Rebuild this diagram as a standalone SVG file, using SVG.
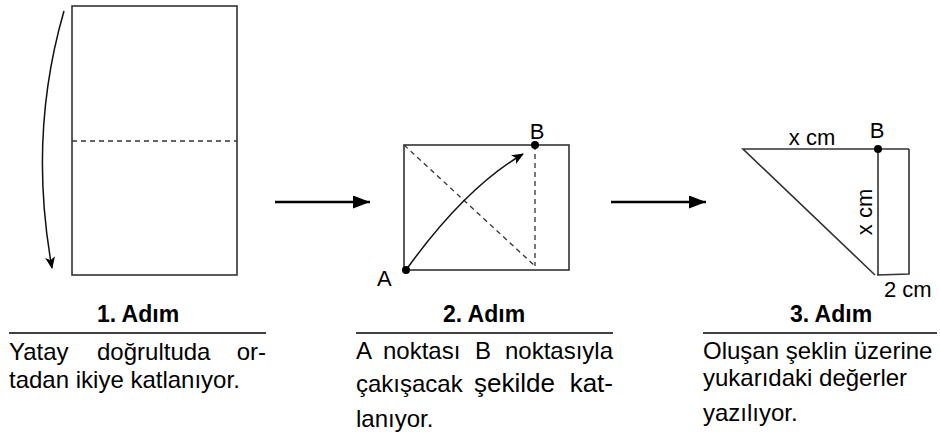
<svg xmlns="http://www.w3.org/2000/svg" width="940" height="435" viewBox="0 0 940 435">
<defs>
<style>
.shape{fill:none;stroke:#333;stroke-width:1.6}
.dash{fill:none;stroke:#333;stroke-width:1.3;stroke-dasharray:5,4}
.curve{fill:none;stroke:#111;stroke-width:1.5}
.flow{fill:none;stroke:#000;stroke-width:2.6}
.dot{fill:#000}
text{font-family:"Liberation Sans",Arial,sans-serif;fill:#000}
.head{font-size:23px;font-weight:bold;text-anchor:middle}
.body{font-size:24px}
.lbl{font-size:22px}
.rule{stroke:#000;stroke-width:1.3}
</style>
<marker id="ah" viewBox="0 0 12 10" refX="11" refY="5" markerWidth="12" markerHeight="10" markerUnits="userSpaceOnUse" orient="auto">
<path d="M0,0 L12,5 L0,10 L3,5 Z" fill="#000"/>
</marker>
<marker id="ahBig" viewBox="0 0 17 13" refX="17" refY="6.5" markerWidth="17" markerHeight="13" markerUnits="userSpaceOnUse" orient="auto">
<path d="M0,0 L17,6.5 L0,13 Z" fill="#000"/>
</marker>
</defs>
<rect width="940" height="435" fill="#fff"/>

<g id="step1">
<rect class="shape" x="72" y="6" width="165" height="269"/>
<line class="dash" x1="72" y1="141" x2="237" y2="141"/>
<path class="curve" d="M64,11 Q28,135 52,268" marker-end="url(#ah)"/>
<text class="head" x="138" y="322">1. Adım</text>
<line class="rule" x1="9" y1="333" x2="266" y2="333"/>
<text class="body" y="360"><tspan x="9">Yatay</tspan><tspan x="97">doğrultuda</tspan><tspan x="266" text-anchor="end">or-</tspan></text>
<text class="body" x="9" y="388">tadan ikiye katlanıyor.</text>
</g>

<g id="step2">
<rect class="shape" x="404" y="145" width="165" height="125"/>
<line class="dash" x1="404" y1="145" x2="535" y2="266"/>
<line class="dash" x1="535" y1="145" x2="535" y2="266"/>
<path class="curve" d="M406,270 Q465,188 523,154" marker-end="url(#ah)"/>
<circle class="dot" cx="406" cy="270" r="4"/>
<circle class="dot" cx="535" cy="145" r="4"/>
<text class="lbl" x="377" y="286">A</text>
<text class="lbl" x="537" y="139" text-anchor="middle">B</text>
<text class="head" x="484" y="322">2. Adım</text>
<line class="rule" x1="356" y1="333" x2="613" y2="333"/>
<text class="body" y="359"><tspan x="356">A</tspan><tspan x="383">noktası</tspan><tspan x="475">B</tspan><tspan x="613" text-anchor="end">noktasıyla</tspan></text>
<text class="body" y="392"><tspan x="356">çakışacak</tspan><tspan x="474" font-size="26">şekilde</tspan><tspan x="613" text-anchor="end" font-size="26">kat-</tspan></text>
<text class="body" x="356" y="427">lanıyor.</text>
</g>

<g id="step3">
<path class="shape" d="M909,149 L743,149 L875,275"/>
<line class="shape" x1="878" y1="149" x2="878" y2="275"/>
<path class="shape" d="M877,275 L909,274 L909,149"/>
<circle class="dot" cx="878" cy="149" r="4"/>
<text class="lbl" x="812" y="145" text-anchor="middle">x cm</text>
<text class="lbl" x="877" y="138" text-anchor="middle">B</text>
<text class="lbl" transform="translate(872,212) rotate(-90)" text-anchor="middle">x cm</text>
<text class="lbl" x="884" y="297">2 cm</text>
<text class="head" x="831" y="322">3. Adım</text>
<line class="rule" x1="703" y1="333" x2="937" y2="333"/>
<text class="body" x="703" y="359">Oluşan şeklin üzerine</text>
<text class="body" x="703" y="386">yukarıdaki değerler</text>
<text class="body" x="703" y="421">yazılıyor.</text>
</g>

<g id="connectors">
<line class="flow" x1="275" y1="202" x2="370" y2="202" marker-end="url(#ahBig)"/>
<line class="flow" x1="611" y1="202" x2="706" y2="202" marker-end="url(#ahBig)"/>
</g>
</svg>
